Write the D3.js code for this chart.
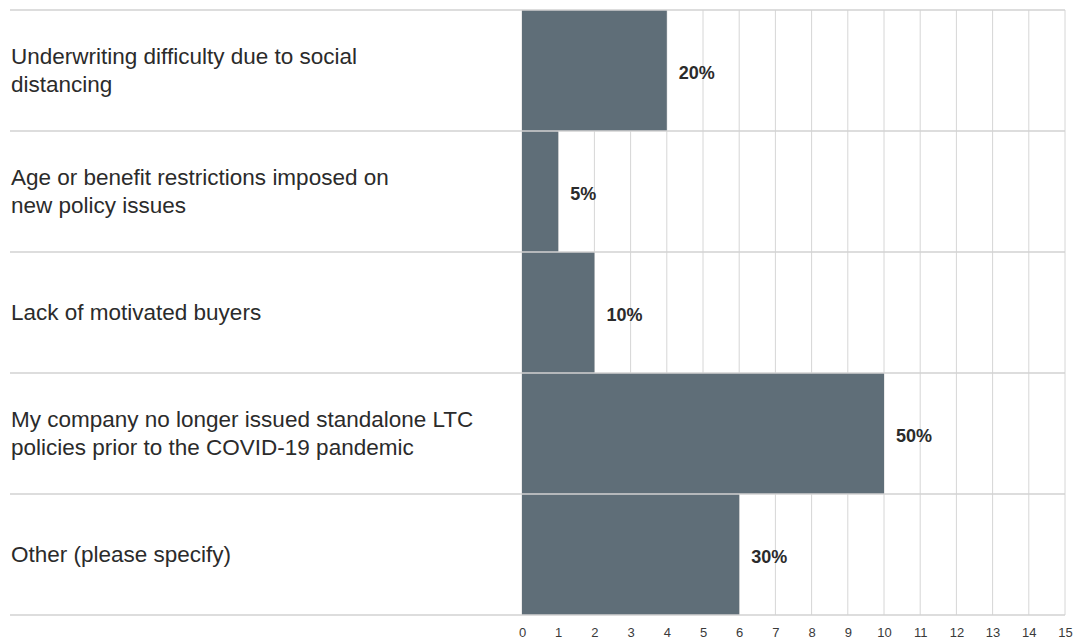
<!DOCTYPE html>
<html>
<head>
<meta charset="utf-8">
<script src="https://cdn.jsdelivr.net/npm/d3@7"></script>
<style>
  html, body { margin: 0; padding: 0; background: #ffffff; }
  svg { display: block; }
</style>
</head>
<body>
<script>
// ---- data ----
const categories = [
  ["Underwriting difficulty due to social", "distancing"],
  ["Age or benefit restrictions imposed on", "new policy issues"],
  ["Lack of motivated buyers"],
  ["My company no longer issued standalone LTC", "policies prior to the COVID-19 pandemic"],
  ["Other (please specify)"]
];
const counts = [4, 1, 2, 10, 6];
const percentLabels = ["20%", "5%", "10%", "50%", "30%"];
const tickValues = [0,1,2,3,4,5,6,7,8,9,10,11,12,13,14,15];

// ---- layout ----
const W = 1074, H = 641;
const plotLeft = 522, plotRight = 1065, plotTop = 10, plotBottom = 615;

const svg = d3.select("body").append("svg").attr("width", W).attr("height", H);

const x = d3.scaleLinear().domain([0, 15]).range([plotLeft, plotRight]);
const y = d3.scaleBand().domain(d3.range(categories.length)).range([plotTop, plotBottom]).padding(0);

// vertical gridlines
svg.append("g").selectAll("line").data(tickValues).join("line")
  .attr("x1", d => x(d)).attr("x2", d => x(d))
  .attr("y1", plotTop).attr("y2", plotBottom)
  .attr("stroke", "#d6d6d6").attr("stroke-width", 1);

// bars
svg.append("g").selectAll("rect").data(counts).join("rect")
  .attr("x", x(0))
  .attr("y", (d, i) => y(i))
  .attr("width", d => x(d) - x(0))
  .attr("height", y.bandwidth())
  .attr("fill", "#5f6e78");

// horizontal separators
const seps = d3.range(categories.length + 1).map(i => i === categories.length ? plotBottom : y(i));
svg.append("g").selectAll("line").data(seps).join("line")
  .attr("x1", 10).attr("x2", plotRight)
  .attr("y1", d => d).attr("y2", d => d)
  .attr("stroke", "#d2d2d2").attr("stroke-width", 1.5);

// category labels
const lineH = 28;
const labG = svg.append("g")
  .attr("font-family", "'Liberation Sans', Arial, sans-serif")
  .attr("font-size", 22.5).attr("fill", "#2b2b2b");
categories.forEach((lines, i) => {
  const cy = y(i) + y.bandwidth() / 2;
  const t = labG.append("text").attr("x", 11);
  lines.forEach((ln, j) => {
    t.append("tspan").attr("x", 11)
      .attr("y", cy + (j - (lines.length - 1) / 2) * lineH)
      .attr("dy", "0.35em").text(ln);
  });
});

// value labels
svg.append("g").selectAll("text").data(counts).join("text")
  .attr("x", d => x(d) + 12)
  .attr("y", (d, i) => y(i) + y.bandwidth() / 2 + 2)
  .attr("dy", "0.35em")
  .attr("font-family", "'Liberation Sans', Arial, sans-serif")
  .attr("font-size", 18).attr("font-weight", "bold").attr("fill", "#2b2b2b")
  .text((d, i) => percentLabels[i]);

// x axis tick labels
const axis = d3.axisBottom(x).tickValues(tickValues).tickSize(0).tickPadding(0).tickFormat(d3.format("d"));
const ax = svg.append("g").attr("transform", `translate(0,${plotBottom})`).call(axis);
ax.select(".domain").remove();
ax.selectAll("text")
  .attr("y", 22).attr("dy", 0)
  .attr("font-family", "'Liberation Sans', Arial, sans-serif")
  .attr("font-size", 13).attr("fill", "#3a3a3a");
</script>
</body>
</html>
